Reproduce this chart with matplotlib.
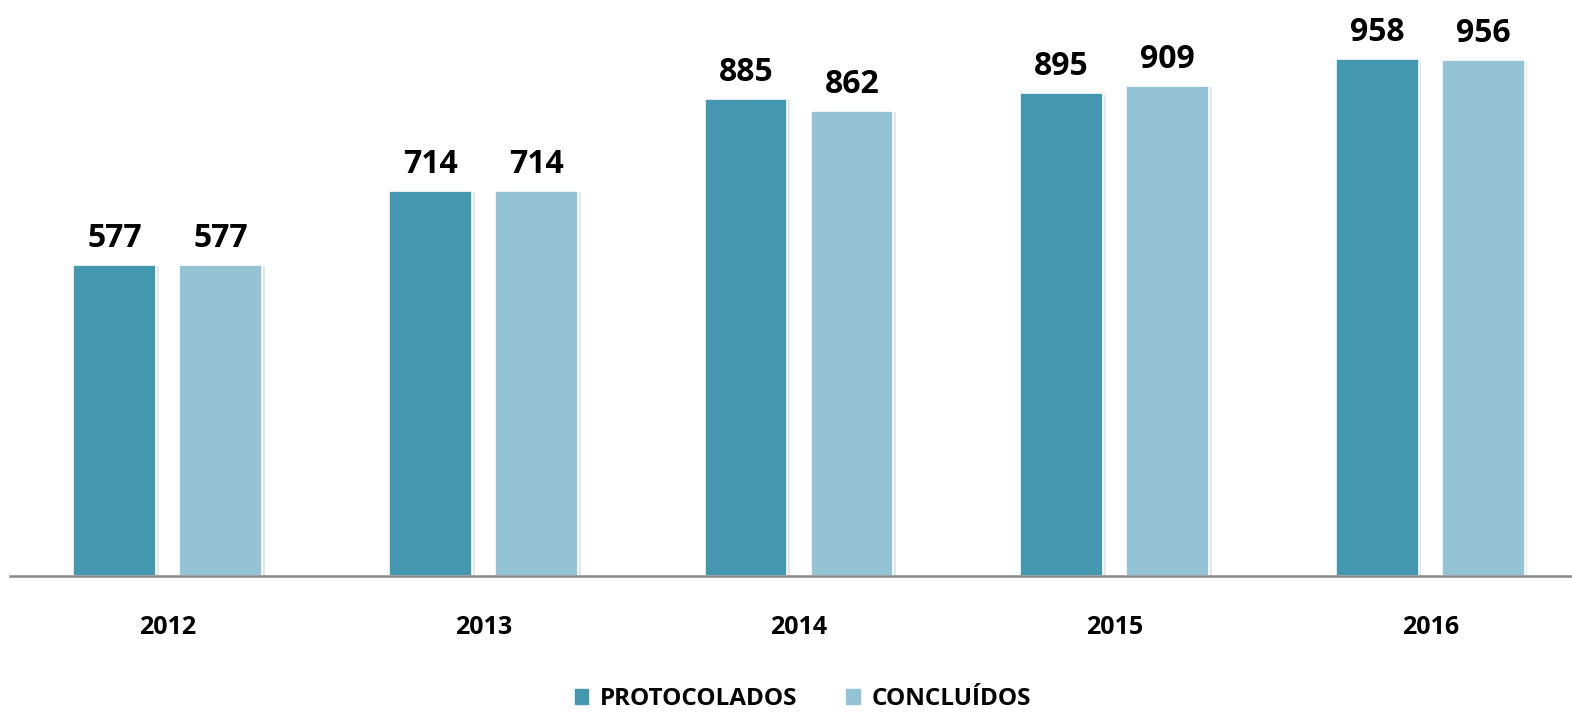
import numpy as np
import matplotlib.pyplot as plt
import matplotlib.patheffects as pe
from matplotlib.patches import Patch

anos = ['2012', '2013', '2014', '2015', '2016']
protocolados = [577, 714, 885, 895, 958]
concluidos = [577, 714, 862, 909, 956]

cor_prot = '#4397AF'
cor_conc = '#93C3D4'

plt.rcParams['font.family'] = ['Open Sans', 'DejaVu Sans']

fig = plt.figure(figsize=(15.72, 7.12), dpi=100)
ax = fig.add_axes([10 / 1572, 136 / 712, 1578 / 1572, 576 / 712])

x = np.arange(len(anos))
off = 0.168
w = 0.262
sombra = [pe.SimplePatchShadow(offset=(2, -1), shadow_rgbFace='#c8c8c8', alpha=0.45), pe.Normal()]

b1 = ax.bar(x - off, protocolados, w, color=cor_prot, edgecolor='white', linewidth=1.2)
b2 = ax.bar(x + off, concluidos, w, color=cor_conc, edgecolor='white', linewidth=1.2)
for b in list(b1) + list(b2):
    b.set_path_effects(sombra)

for bars, vals in ((b1, protocolados), (b2, concluidos)):
    for b, v in zip(bars, vals):
        ax.annotate(str(v), (b.get_x() + b.get_width() / 2, v), xytext=(0, 13),
                    textcoords='offset points', ha='center', va='baseline',
                    fontsize=23, fontweight='bold', color='black')

ax.set_xlim(-0.5, 4.5)
ax.set_ylim(0, 1068)
ax.set_xticks(x)
ax.set_xticklabels(anos, fontsize=18, fontweight='bold')
ax.tick_params(axis='x', length=0, pad=28)
ax.set_yticks([])
for s in ['top', 'right', 'left']:
    ax.spines[s].set_visible(False)
ax.spines['bottom'].set_color('#888888')
ax.spines['bottom'].set_linewidth(1.8)

handles = [Patch(color=cor_prot, label='PROTOCOLADOS'), Patch(color=cor_conc, label='CONCLUÍDOS')]
leg = fig.legend(handles=handles, loc='center', bbox_to_anchor=(803 / 1572, 13 / 712), ncol=2,
                 frameon=False, handlelength=0.55, handleheight=0.55, columnspacing=2.0,
                 handletextpad=0.5, prop={'size': 17.5, 'weight': 'bold'})

fig.savefig('out.png', dpi=100)
